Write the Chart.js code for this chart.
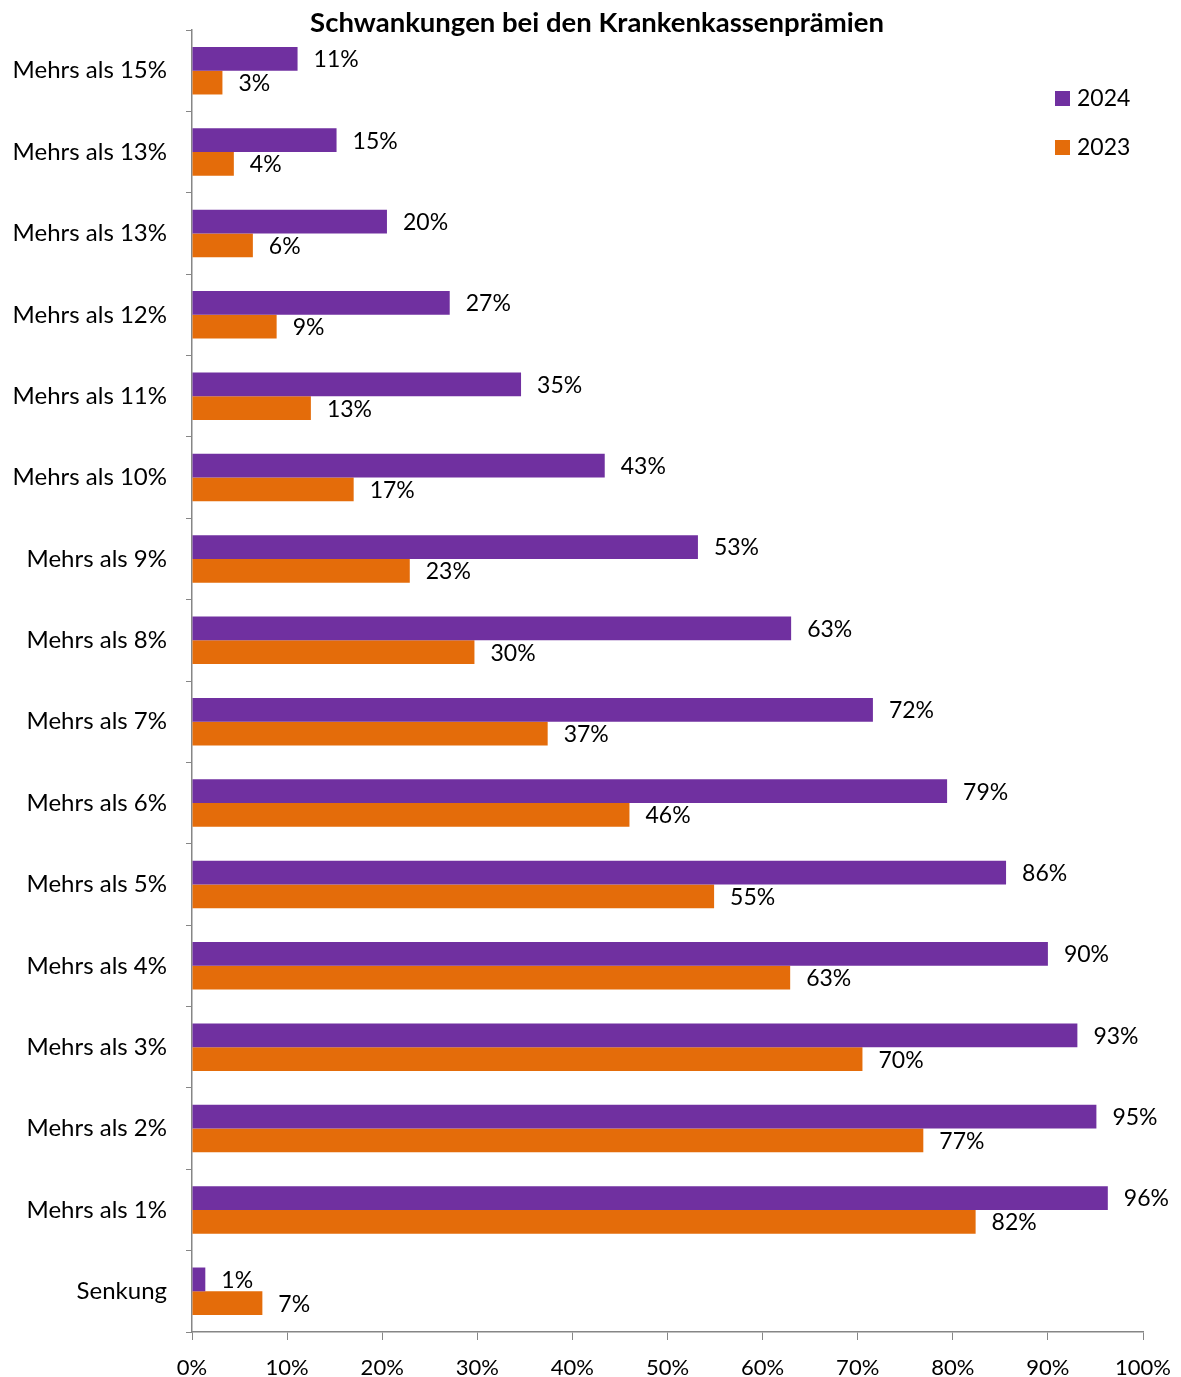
<!DOCTYPE html>
<html>
<head>
<meta charset="utf-8">
<script src="https://cdn.jsdelivr.net/npm/chart.js@4/dist/chart.umd.min.js"></script>
<style>
  html, body { margin: 0; padding: 0; background: #fff; }
  canvas { display: block; }
</style>
</head>
<body>
<canvas id="chart" width="1181" height="1377"></canvas>
<script>
const title = 'Schwankungen bei den Krankenkassenprämien';
const categories = ['Mehrs als 15%', 'Mehrs als 13%', 'Mehrs als 13%', 'Mehrs als 12%', 'Mehrs als 11%',
  'Mehrs als 10%', 'Mehrs als 9%', 'Mehrs als 8%', 'Mehrs als 7%', 'Mehrs als 6%', 'Mehrs als 5%',
  'Mehrs als 4%', 'Mehrs als 3%', 'Mehrs als 2%', 'Mehrs als 1%', 'Senkung'];
const values2024 = [11.1, 15.2, 20.5, 27.1, 34.6, 43.4, 53.2, 63.0, 71.6, 79.4, 85.6, 90.0, 93.1, 95.1, 96.3, 1.4];
const values2023 = [3.2, 4.4, 6.4, 8.9, 12.5, 17.0, 22.9, 29.7, 37.4, 46.0, 54.9, 62.9, 70.5, 76.9, 82.4, 7.4];
const labels2024 = ['11%', '15%', '20%', '27%', '35%', '43%', '53%', '63%', '72%', '79%', '86%', '90%', '93%', '95%', '96%', '1%'];
const labels2023 = ['3%', '4%', '6%', '9%', '13%', '17%', '23%', '30%', '37%', '46%', '55%', '63%', '70%', '77%', '82%', '7%'];
const seriesNames = ['2024', '2023'];

const FONT = 'Lato, "Open Sans", sans-serif';
const axisColor = '#868686';
const colors = ['#7030A0', '#E46C0A'];

const extras = {
    id: 'extras',
    afterDatasetsDraw(chart) {
        const ctx = chart.ctx;
        const textSets = [labels2024, labels2023];
        ctx.save();
        ctx.font = '23px ' + FONT;
        ctx.fillStyle = '#000';
        ctx.textAlign = 'left';
        ctx.textBaseline = 'middle';
        chart.data.datasets.forEach((ds, i) => {
            chart.getDatasetMeta(i).data.forEach((bar, j) => {
                ctx.fillText(textSets[i][j], bar.x + 16, bar.y + 1);
            });
        });

        // title
        ctx.font = 'bold 27.5px ' + FONT;
        ctx.textAlign = 'center';
        ctx.fillText(title, 597, 23);

        // legend
        ctx.font = '23px ' + FONT;
        ctx.textAlign = 'left';
        seriesNames.forEach((name, i) => {
            const y = 99 + i * 49;
            ctx.fillStyle = colors[i];
            ctx.fillRect(1055, y - 8, 15, 15);
            ctx.fillStyle = '#000';
            ctx.fillText(name, 1077, y);
        });
        ctx.restore();
    }
};

new Chart(document.getElementById('chart').getContext('2d'), {
    type: 'bar',
    data: {
        labels: categories,
        datasets: [
            { label: seriesNames[0], data: values2024, backgroundColor: colors[0] },
            { label: seriesNames[1], data: values2023, backgroundColor: colors[1] }
        ]
    },
    options: {
        indexAxis: 'y',
        responsive: false,
        animation: false,
        devicePixelRatio: 1,
        layout: { padding: { top: 30, right: 38, left: 0, bottom: 0 } },
        categoryPercentage: 0.585,
        barPercentage: 1.0,
        plugins: {
            legend: { display: false },
            tooltip: { enabled: false }
        },
        scales: {
            x: {
                min: 0,
                max: 100,
                ticks: {
                    stepSize: 10,
                    callback: v => v + '%',
                    color: '#000',
                    font: { family: FONT, size: 22 },
                    padding: 15,
                    maxRotation: 0
                },
                grid: { drawOnChartArea: false, tickLength: 8, color: axisColor },
                border: { color: axisColor, width: 1.5 },
                afterFit: s => { s.height = 45; s.paddingLeft = 0; s.paddingRight = 0; }
            },
            y: {
                ticks: {
                    color: '#000',
                    font: { family: FONT, size: 24 },
                    padding: 19,
                    autoSkip: false
                },
                grid: { drawOnChartArea: false, tickLength: 6, color: axisColor, offset: true },
                border: { color: axisColor, width: 1.5 },
                afterFit: s => { s.width = 192; s.paddingTop = 0; s.paddingBottom = 0; }
            }
        }
    },
    plugins: [extras]
});
</script>
</body>
</html>
